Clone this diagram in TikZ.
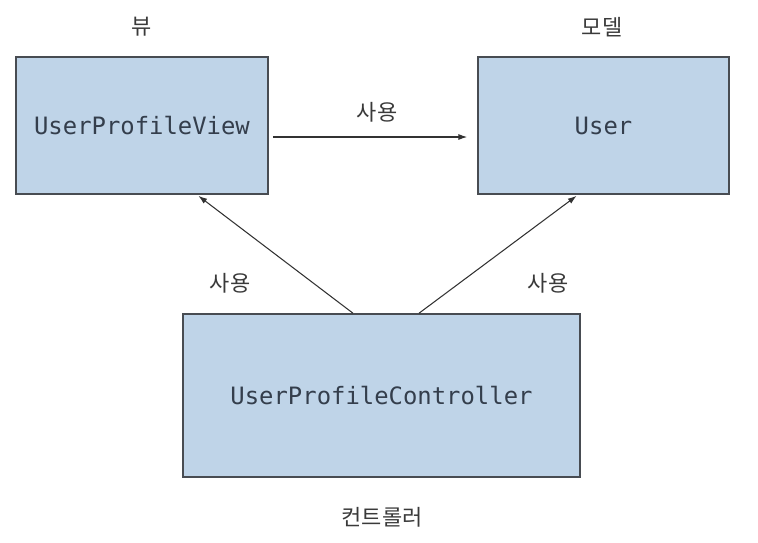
\documentclass[tikz,border=0pt]{standalone}
\usepackage{fontspec}
\setmonofont{DejaVu Sans Mono}
\newfontfamily\krfont{Noto Sans CJK KR}
\usetikzlibrary{arrows.meta,positioning}

\begin{document}
\begin{tikzpicture}[x=0.02cm,y=-0.02cm,
    box/.style={
        draw=boxline,
        fill=boxfill,
        line width=0.9pt,
        text=boxtext,
        font=\ttfamily\fontsize{13.6}{16}\selectfont,
        align=center,
        anchor=center
    },
    label/.style={
        text=labeltext,
        font=\krfont\fontsize{12.5}{15}\selectfont,
        align=center,
        anchor=center
    },
    uses/.style={
        draw=arrowline,
        line width=0.6pt,
        -{Latex[length=5pt,width=3.4pt]}
    }]
    \definecolor{boxfill}{RGB}{191, 212, 232}
    \definecolor{boxline}{RGB}{72, 76, 82}
    \definecolor{boxtext}{RGB}{52, 62, 76}
    \definecolor{labeltext}{RGB}{58, 58, 58}
    \definecolor{arrowline}{RGB}{50, 50, 50}

    \useasboundingbox (0,0) rectangle (758,542);

    \node[box, minimum width=5.04cm, minimum height=2.74cm] (view) at (142,125.5) {UserProfileView};
    \node[box, minimum width=5.02cm, minimum height=2.74cm] (model) at (603.5,125.5) {User};
    \node[box, minimum width=7.94cm, minimum height=3.26cm] (ctrl) at (381.5,395.5) {UserProfileController};

    \node[label] (viewname) at (142,27) {뷰};
    \node[label] (modelname) at (602,27) {모델};
    \node[label] (ctrlname) at (382,517) {컨트롤러};

    \node[label] (use1) at (377,112) {사용};
    \node[label] (use2) at (230,283) {사용};
    \node[label] (use3) at (548,283) {사용};

    \draw[uses, shorten <=2.3pt, shorten >=5.7pt] ([yshift=-0.23cm]view.east) -- ([yshift=-0.23cm]model.west);
    \draw[uses, shorten >=1pt] ([xshift=-0.57cm]ctrl.north) -- ([xshift=1.1cm]view.south);
    \draw[uses, shorten >=1pt] ([xshift=0.75cm]ctrl.north) -- ([xshift=-0.51cm]model.south);

\end{tikzpicture}
\end{document}
